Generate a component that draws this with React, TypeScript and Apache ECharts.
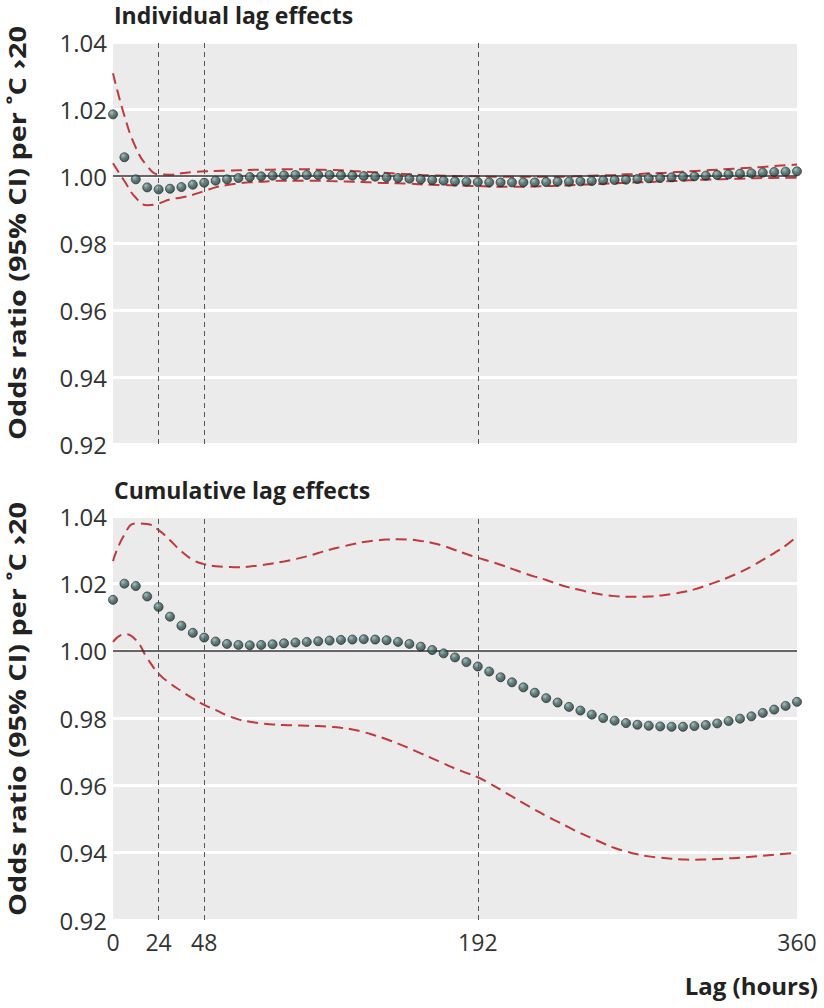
import React, { useEffect, useRef } from "react";
import * as echarts from "echarts";

// Lag in hours
const lags = [
  0, 6, 12, 18, 24, 30, 36, 42, 48, 54, 60, 66, 72, 78, 84, 90, 96, 102, 108, 114, 120,
  126, 132, 138, 144, 150, 156, 162, 168, 174, 180, 186, 192, 198, 204, 210, 216, 222,
  228, 234, 240, 246, 252, 258, 264, 270, 276, 282, 288, 294, 300, 306, 312, 318, 324,
  330, 336, 342, 348, 354, 360,
];

// Individual lag effects
const indivEst = [
  1.0184, 1.0056, 0.999, 0.9966, 0.996, 0.9962, 0.9967, 0.9974, 0.998, 0.9986, 0.999,
  0.9994, 0.9997, 0.9999, 1.0001, 1.0002, 1.0003, 1.0003, 1.0003, 1.0003, 1.0002, 1.0001,
  1.0, 0.9998, 0.9996, 0.9994, 0.9992, 0.999, 0.9988, 0.9986, 0.9984, 0.9983, 0.9982,
  0.9981, 0.9981, 0.9981, 0.9981, 0.9981, 0.9982, 0.9983, 0.9983, 0.9984, 0.9985, 0.9987,
  0.9988, 0.9989, 0.9991, 0.9993, 0.9994, 0.9996, 0.9998, 0.9999, 1.0001, 1.0003, 1.0005,
  1.0007, 1.0008, 1.001, 1.0012, 1.0013, 1.0014,
];
const indivUpper = [
  1.0307, 1.018, 1.0085, 1.003, 1.0005, 1.0004, 1.0008, 1.0012, 1.0014, 1.0015, 1.0016,
  1.0017, 1.0018, 1.0019, 1.0019, 1.002, 1.002, 1.002, 1.0019, 1.0018, 1.0017, 1.0015,
  1.0013, 1.0011, 1.0009, 1.0007, 1.0005, 1.0003, 1.0002, 1.0001, 1.0, 0.9999, 0.9999,
  0.9998, 0.9998, 0.9998, 0.9998, 0.9998, 0.9998, 0.9998, 0.9998, 1.0, 1.0001, 1.0002,
  1.0003, 1.0005, 1.0006, 1.0008, 1.0009, 1.0011, 1.0013, 1.0015, 1.0017, 1.0019, 1.0021,
  1.0023, 1.0025, 1.0027, 1.003, 1.0032, 1.0034,
];
const indivLower = [
  1.0038, 0.9985, 0.9935, 0.9913, 0.9918, 0.993, 0.9936, 0.9944, 0.9955, 0.9966, 0.9973,
  0.9978, 0.9981, 0.9983, 0.9985, 0.9986, 0.9986, 0.9986, 0.9986, 0.9985, 0.9984, 0.9983,
  0.9982, 0.998, 0.9979, 0.9978, 0.9977, 0.9975, 0.9974, 0.9973, 0.9972, 0.9971, 0.997,
  0.9969, 0.9968, 0.9968, 0.9968, 0.9969, 0.997, 0.9971, 0.9972, 0.9974, 0.9975, 0.9977,
  0.9978, 0.998, 0.9981, 0.9982, 0.9984, 0.9985, 0.9986, 0.9988, 0.9989, 0.999, 0.9991,
  0.9992, 0.9993, 0.9994, 0.9994, 0.9995, 0.9995,
];

// Cumulative lag effects
const cumEst = [
  1.0151, 1.0199, 1.0192, 1.0161, 1.013, 1.0101, 1.0074, 1.0053, 1.0039, 1.0027, 1.002,
  1.0017, 1.0016, 1.0017, 1.0019, 1.0022, 1.0024, 1.0026, 1.0028, 1.003, 1.0032, 1.0033,
  1.0034, 1.0033, 1.0031, 1.0026, 1.002, 1.0012, 1.0002, 0.9992, 0.998, 0.9966, 0.9953,
  0.9938, 0.9921, 0.9906, 0.9891, 0.9875, 0.9859, 0.9846, 0.9833, 0.9822, 0.981, 0.98,
  0.9792, 0.9785, 0.978, 0.9777, 0.9775, 0.9774, 0.9774, 0.9776, 0.9779, 0.9784, 0.9791,
  0.9798, 0.9805, 0.9815, 0.9825, 0.9836, 0.9848,
];
const cumUpper = [
  1.0266, 1.0345, 1.0378, 1.0376, 1.0358, 1.0328, 1.0295, 1.027, 1.0257, 1.0251, 1.0249,
  1.0248, 1.025, 1.0254, 1.0259, 1.0265, 1.0272, 1.028, 1.029, 1.03, 1.0308, 1.0316,
  1.0323, 1.0327, 1.033, 1.0331, 1.033, 1.0326, 1.032, 1.0311, 1.0299, 1.0287, 1.0276,
  1.0266, 1.0255, 1.0243, 1.0231, 1.022, 1.021, 1.0198, 1.0188, 1.018, 1.0172, 1.0166,
  1.0162, 1.016, 1.016, 1.0161, 1.0164, 1.0168, 1.0174, 1.0182, 1.0193, 1.0205, 1.0218,
  1.0233, 1.025, 1.027, 1.029, 1.0312, 1.034,
];
const cumLower = [
  1.0026, 1.0049, 1.0032, 0.9978, 0.9932, 0.9903, 0.988, 0.9858, 0.9839, 0.9824, 0.9808,
  0.9796, 0.9789, 0.9784, 0.9781, 0.9779, 0.9778, 0.9777, 0.9776, 0.9774, 0.9771, 0.9766,
  0.9758, 0.9748, 0.9737, 0.9724, 0.971, 0.9695, 0.968, 0.9665, 0.965, 0.9637, 0.9624,
  0.9606, 0.9587, 0.9567, 0.9547, 0.9528, 0.9509, 0.9492, 0.9475, 0.9458, 0.9443, 0.9428,
  0.9414, 0.9404, 0.9395, 0.9389, 0.9385, 0.9382, 0.938, 0.9379, 0.938, 0.9381, 0.9383,
  0.9385, 0.9388, 0.9391, 0.9394, 0.9397, 0.94,
];

const xTickLabels = [0, 24, 48, 192, 360];
const markedLags = [24, 48, 192];
const panelTitles = ["Individual lag effects", "Cumulative lag effects"];
const yTitle = "Odds ratio (95% CI) per ˚C ›20";
const xTitle = "Lag (hours)";

const FONT = "'Open Sans', 'Noto Sans', sans-serif";
const RED = "#c0393b";

export default function App() {
  const ref = useRef<HTMLDivElement>(null);

  useEffect(() => {
    const chart = echarts.init(ref.current!, null, { renderer: "svg" });

    const pair = (vals: number[]) => lags.map((h, i) => [h, vals[i]]);

    const ciLine = (idx: number, vals: number[], name: string) => ({
      type: "line",
      name,
      xAxisIndex: idx,
      yAxisIndex: idx,
      data: pair(vals),
      smooth: true,
      showSymbol: false,
      symbol: "none",
      z: 3,
      lineStyle: { color: RED, width: 2, type: [11, 6] },
    });

    const dots = (idx: number, vals: number[]) => ({
      type: "scatter",
      xAxisIndex: idx,
      yAxisIndex: idx,
      data: pair(vals),
      symbol: "circle",
      symbolSize: 9,
      z: 5,
      itemStyle: {
        color: {
          type: "radial",
          x: 0.35,
          y: 0.3,
          r: 0.75,
          colorStops: [
            { offset: 0, color: "#93b6b3" },
            { offset: 0.45, color: "#426564" },
            { offset: 1, color: "#1e3131" },
          ],
        },
        borderColor: "#172424",
        borderWidth: 0.8,
      },
    });

    const refLines = (idx: number) => ({
      type: "line",
      xAxisIndex: idx,
      yAxisIndex: idx,
      data: [],
      z: 2,
      markLine: {
        silent: true,
        symbol: ["none", "none"],
        label: { show: false },
        animation: false,
        data: [
          ...markedLags.map((v) => ({
            xAxis: v,
            lineStyle: { color: "#555", width: 1, type: [5, 4] },
          })),
          { yAxis: 1.0, lineStyle: { color: "#333", width: 1.6, type: "solid" } },
        ],
      },
    });

    const yAxis = (idx: number) => ({
      type: "value",
      gridIndex: idx,
      min: 0.92,
      max: 1.04,
      interval: 0.02,
      axisLine: { show: false },
      axisTick: { show: false },
      axisLabel: {
        fontFamily: FONT,
        fontSize: 24,
        color: "#333",
        margin: 6,
        formatter: (v: number) => v.toFixed(2),
      },
      splitLine: { show: true, lineStyle: { color: "#ffffff", width: 3 } },
    });

    const xAxis = (idx: number, showLabels: boolean) => ({
      type: "value",
      gridIndex: idx,
      min: 0,
      max: 360,
      interval: 24,
      axisLine: { show: false },
      axisTick: { show: false },
      splitLine: { show: false },
      axisLabel: {
        show: showLabels,
        fontFamily: FONT,
        fontSize: 23,
        color: "#333",
        margin: 10,
        formatter: (v: number) => (xTickLabels.includes(Math.round(v)) ? String(Math.round(v)) : ""),
      },
    });

    const yTitleText = (cy: number) => ({
      type: "text",
      x: 17,
      y: cy,
      rotation: Math.PI / 2,
      scaleX: 1.2,
      silent: true,
      style: {
        text: yTitle,
        fontFamily: FONT,
        fontSize: 24,
        fontWeight: "bold",
        fill: "#222",
        align: "center",
        verticalAlign: "middle",
        textAlign: "center",
        textVerticalAlign: "middle",
      },
    });

    const titleStyle = { fontFamily: FONT, fontSize: 23, fontWeight: "bold", color: "#222" };

    const option = {
      animation: false,
      backgroundColor: "#ffffff",
      title: [
        { text: panelTitles[0], left: 114, top: 3, padding: 0, textStyle: titleStyle },
        { text: panelTitles[1], left: 114, top: 478, padding: 0, textStyle: titleStyle },
      ],
      grid: [
        { left: 113, right: 27, top: 42, height: 402, show: true, backgroundColor: "#ebebeb", borderWidth: 0 },
        { left: 113, right: 27, top: 516, height: 404, show: true, backgroundColor: "#ebebeb", borderWidth: 0 },
      ],
      xAxis: [xAxis(0, false), xAxis(1, true)],
      yAxis: [yAxis(0), yAxis(1)],
      graphic: [
        yTitleText(233),
        yTitleText(709),
        {
          type: "text",
          right: 6,
          top: 973,
          silent: true,
          style: {
            text: xTitle,
            fontFamily: FONT,
            fontSize: 24,
            fontWeight: "bold",
            fill: "#222",
          },
        },
      ],
      series: [
        refLines(0),
        ciLine(0, indivUpper, "upper"),
        ciLine(0, indivLower, "lower"),
        dots(0, indivEst),
        refLines(1),
        ciLine(1, cumUpper, "upper"),
        ciLine(1, cumLower, "lower"),
        dots(1, cumEst),
      ],
    };

    chart.setOption(option as any);
    return () => chart.dispose();
  }, []);

  return (
    <div
      ref={ref}
      style={{ position: "absolute", left: 0, top: 0, width: 824, height: 1008 }}
    />
  );
}
